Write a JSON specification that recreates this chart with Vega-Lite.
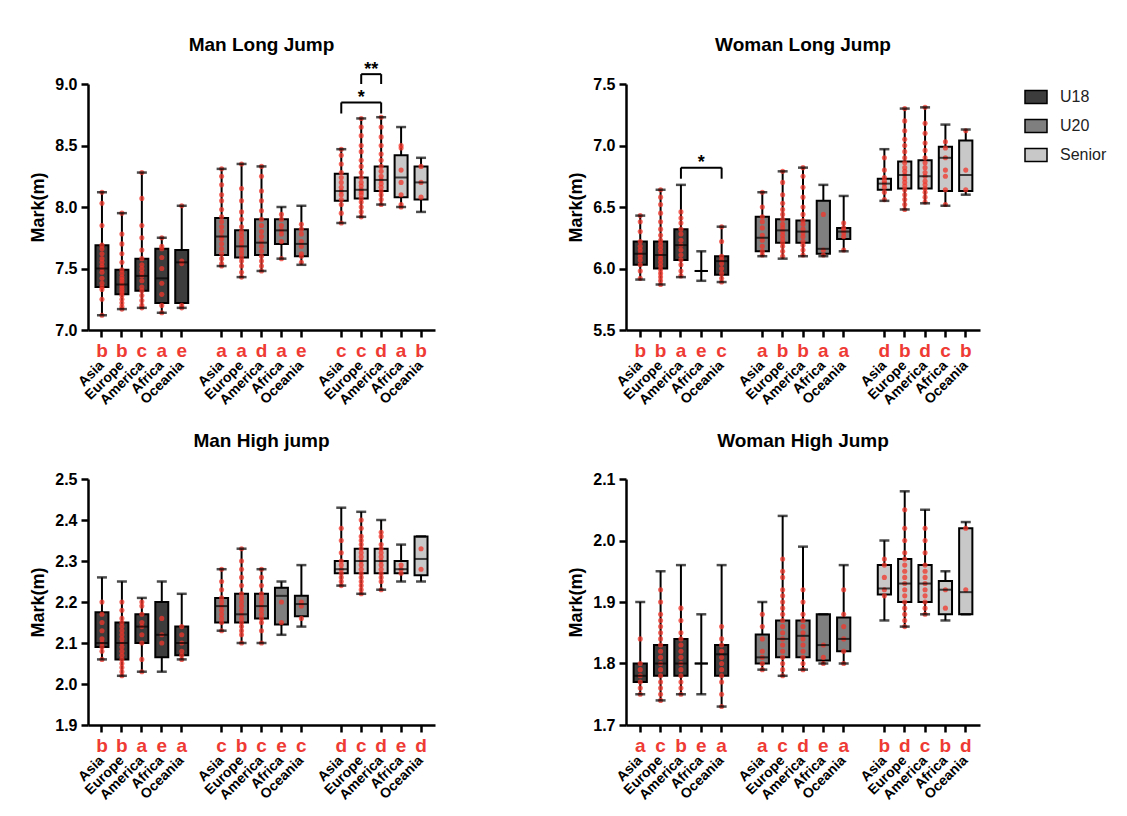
{
  "$schema": "https://vega.github.io/schema/vega-lite/v6.json",
  "background": "white",
  "padding": {"left": 29, "top": 36, "right": 5, "bottom": 5},
  "config": {
    "font": "Liberation Sans",
    "view": {"stroke": null},
    "axis": {"domainColor": "black", "domainWidth": 2.5, "tickColor": "black", "tickWidth": 2.5, "tickSize": 7, "labelColor": "black", "labelFontWeight": "bold", "grid": false, "titleFontWeight": "bold", "titleColor": "black"},
    "axisX": {"labelAngle": -45, "labelAlign": "right", "labelBaseline": "middle", "labelFontSize": 14, "labelPadding": 26, "title": null},
    "axisY": {"labelFontSize": 16, "titleFontSize": 18, "labelPadding": 4, "titlePadding": 7},
    "title": {"fontSize": 19, "fontWeight": "bold", "color": "black"}
  },
  "datasets": {
    "mlj": [
      {"b": "U18 Asia", "g": "U18", "lo": 7.12, "q1": 7.35, "md": 7.5, "q3": 7.69, "hi": 8.12, "l": "b"},
      {"b": "U18 Europe", "g": "U18", "lo": 7.17, "q1": 7.29, "md": 7.37, "q3": 7.49, "hi": 7.95, "l": "b"},
      {"b": "U18 America", "g": "U18", "lo": 7.18, "q1": 7.32, "md": 7.44, "q3": 7.58, "hi": 8.28, "l": "c"},
      {"b": "U18 Africa", "g": "U18", "lo": 7.14, "q1": 7.22, "md": 7.42, "q3": 7.66, "hi": 7.75, "l": "a"},
      {"b": "U18 Oceania", "g": "U18", "lo": 7.18, "q1": 7.22, "md": 7.55, "q3": 7.65, "hi": 8.01, "l": "e"},
      {"b": "U20 Asia", "g": "U20", "lo": 7.52, "q1": 7.61, "md": 7.76, "q3": 7.91, "hi": 8.31, "l": "a"},
      {"b": "U20 Europe", "g": "U20", "lo": 7.43, "q1": 7.59, "md": 7.68, "q3": 7.81, "hi": 8.35, "l": "a"},
      {"b": "U20 America", "g": "U20", "lo": 7.48, "q1": 7.61, "md": 7.71, "q3": 7.9, "hi": 8.33, "l": "d"},
      {"b": "U20 Africa", "g": "U20", "lo": 7.58, "q1": 7.7, "md": 7.81, "q3": 7.9, "hi": 8.0, "l": "a"},
      {"b": "U20 Oceania", "g": "U20", "lo": 7.53, "q1": 7.6, "md": 7.7, "q3": 7.82, "hi": 8.01, "l": "e"},
      {"b": "Senior Asia", "g": "Senior", "lo": 7.87, "q1": 8.05, "md": 8.13, "q3": 8.27, "hi": 8.47, "l": "c"},
      {"b": "Senior Europe", "g": "Senior", "lo": 7.92, "q1": 8.07, "md": 8.14, "q3": 8.24, "hi": 8.72, "l": "c"},
      {"b": "Senior America", "g": "Senior", "lo": 8.02, "q1": 8.13, "md": 8.22, "q3": 8.33, "hi": 8.73, "l": "d"},
      {"b": "Senior Africa", "g": "Senior", "lo": 8.0, "q1": 8.08, "md": 8.24, "q3": 8.42, "hi": 8.65, "l": "a"},
      {"b": "Senior Oceania", "g": "Senior", "lo": 7.96, "q1": 8.06, "md": 8.2, "q3": 8.33, "hi": 8.4, "l": "b"}
    ],
    "mlj_p": [
      {"b": "U18 Asia", "v": 7.12}, {"b": "U18 Asia", "v": 7.25}, {"b": "U18 Asia", "v": 7.33}, {"b": "U18 Asia", "v": 7.35}, {"b": "U18 Asia", "v": 7.38}, {"b": "U18 Asia", "v": 7.42}, {"b": "U18 Asia", "v": 7.47}, {"b": "U18 Asia", "v": 7.5}, {"b": "U18 Asia", "v": 7.52}, {"b": "U18 Asia", "v": 7.55}, {"b": "U18 Asia", "v": 7.58}, {"b": "U18 Asia", "v": 7.62}, {"b": "U18 Asia", "v": 7.66}, {"b": "U18 Asia", "v": 7.69}, {"b": "U18 Asia", "v": 7.85}, {"b": "U18 Asia", "v": 8.03}, {"b": "U18 Asia", "v": 8.12},
      {"b": "U18 Europe", "v": 7.17}, {"b": "U18 Europe", "v": 7.19}, {"b": "U18 Europe", "v": 7.22}, {"b": "U18 Europe", "v": 7.25}, {"b": "U18 Europe", "v": 7.28}, {"b": "U18 Europe", "v": 7.3}, {"b": "U18 Europe", "v": 7.32}, {"b": "U18 Europe", "v": 7.34}, {"b": "U18 Europe", "v": 7.36}, {"b": "U18 Europe", "v": 7.37}, {"b": "U18 Europe", "v": 7.39}, {"b": "U18 Europe", "v": 7.41}, {"b": "U18 Europe", "v": 7.43}, {"b": "U18 Europe", "v": 7.46}, {"b": "U18 Europe", "v": 7.49}, {"b": "U18 Europe", "v": 7.55}, {"b": "U18 Europe", "v": 7.62}, {"b": "U18 Europe", "v": 7.7}, {"b": "U18 Europe", "v": 7.78}, {"b": "U18 Europe", "v": 7.95},
      {"b": "U18 America", "v": 7.18}, {"b": "U18 America", "v": 7.2}, {"b": "U18 America", "v": 7.24}, {"b": "U18 America", "v": 7.28}, {"b": "U18 America", "v": 7.32}, {"b": "U18 America", "v": 7.35}, {"b": "U18 America", "v": 7.4}, {"b": "U18 America", "v": 7.44}, {"b": "U18 America", "v": 7.47}, {"b": "U18 America", "v": 7.5}, {"b": "U18 America", "v": 7.53}, {"b": "U18 America", "v": 7.58}, {"b": "U18 America", "v": 7.65}, {"b": "U18 America", "v": 7.75}, {"b": "U18 America", "v": 7.85}, {"b": "U18 America", "v": 8.07}, {"b": "U18 America", "v": 8.28},
      {"b": "U18 Africa", "v": 7.14}, {"b": "U18 Africa", "v": 7.2}, {"b": "U18 Africa", "v": 7.29}, {"b": "U18 Africa", "v": 7.38}, {"b": "U18 Africa", "v": 7.5}, {"b": "U18 Africa", "v": 7.59}, {"b": "U18 Africa", "v": 7.66}, {"b": "U18 Africa", "v": 7.68}, {"b": "U18 Africa", "v": 7.75},
      {"b": "U18 Oceania", "v": 7.18}, {"b": "U18 Oceania", "v": 7.2}, {"b": "U18 Oceania", "v": 7.54}, {"b": "U18 Oceania", "v": 7.56}, {"b": "U18 Oceania", "v": 8.01},
      {"b": "U20 Asia", "v": 7.52}, {"b": "U20 Asia", "v": 7.54}, {"b": "U20 Asia", "v": 7.58}, {"b": "U20 Asia", "v": 7.62}, {"b": "U20 Asia", "v": 7.66}, {"b": "U20 Asia", "v": 7.7}, {"b": "U20 Asia", "v": 7.74}, {"b": "U20 Asia", "v": 7.76}, {"b": "U20 Asia", "v": 7.8}, {"b": "U20 Asia", "v": 7.84}, {"b": "U20 Asia", "v": 7.88}, {"b": "U20 Asia", "v": 7.92}, {"b": "U20 Asia", "v": 7.98}, {"b": "U20 Asia", "v": 8.05}, {"b": "U20 Asia", "v": 8.1}, {"b": "U20 Asia", "v": 8.18}, {"b": "U20 Asia", "v": 8.25}, {"b": "U20 Asia", "v": 8.31},
      {"b": "U20 Europe", "v": 7.43}, {"b": "U20 Europe", "v": 7.47}, {"b": "U20 Europe", "v": 7.52}, {"b": "U20 Europe", "v": 7.56}, {"b": "U20 Europe", "v": 7.59}, {"b": "U20 Europe", "v": 7.62}, {"b": "U20 Europe", "v": 7.65}, {"b": "U20 Europe", "v": 7.68}, {"b": "U20 Europe", "v": 7.71}, {"b": "U20 Europe", "v": 7.74}, {"b": "U20 Europe", "v": 7.77}, {"b": "U20 Europe", "v": 7.8}, {"b": "U20 Europe", "v": 7.84}, {"b": "U20 Europe", "v": 7.9}, {"b": "U20 Europe", "v": 7.96}, {"b": "U20 Europe", "v": 8.05}, {"b": "U20 Europe", "v": 8.15}, {"b": "U20 Europe", "v": 8.35},
      {"b": "U20 America", "v": 7.48}, {"b": "U20 America", "v": 7.52}, {"b": "U20 America", "v": 7.56}, {"b": "U20 America", "v": 7.6}, {"b": "U20 America", "v": 7.64}, {"b": "U20 America", "v": 7.68}, {"b": "U20 America", "v": 7.72}, {"b": "U20 America", "v": 7.76}, {"b": "U20 America", "v": 7.8}, {"b": "U20 America", "v": 7.85}, {"b": "U20 America", "v": 7.9}, {"b": "U20 America", "v": 7.97}, {"b": "U20 America", "v": 8.05}, {"b": "U20 America", "v": 8.13}, {"b": "U20 America", "v": 8.25}, {"b": "U20 America", "v": 8.33},
      {"b": "U20 Africa", "v": 7.58}, {"b": "U20 Africa", "v": 7.72}, {"b": "U20 Africa", "v": 7.78}, {"b": "U20 Africa", "v": 7.81}, {"b": "U20 Africa", "v": 7.85}, {"b": "U20 Africa", "v": 7.9}, {"b": "U20 Africa", "v": 7.94},
      {"b": "U20 Oceania", "v": 7.55}, {"b": "U20 Oceania", "v": 7.6}, {"b": "U20 Oceania", "v": 7.62}, {"b": "U20 Oceania", "v": 7.68}, {"b": "U20 Oceania", "v": 7.72}, {"b": "U20 Oceania", "v": 7.78}, {"b": "U20 Oceania", "v": 7.82}, {"b": "U20 Oceania", "v": 7.86},
      {"b": "Senior Asia", "v": 7.87}, {"b": "Senior Asia", "v": 7.95}, {"b": "Senior Asia", "v": 8.02}, {"b": "Senior Asia", "v": 8.06}, {"b": "Senior Asia", "v": 8.1}, {"b": "Senior Asia", "v": 8.13}, {"b": "Senior Asia", "v": 8.16}, {"b": "Senior Asia", "v": 8.2}, {"b": "Senior Asia", "v": 8.24}, {"b": "Senior Asia", "v": 8.28}, {"b": "Senior Asia", "v": 8.35}, {"b": "Senior Asia", "v": 8.42}, {"b": "Senior Asia", "v": 8.47},
      {"b": "Senior Europe", "v": 7.92}, {"b": "Senior Europe", "v": 7.96}, {"b": "Senior Europe", "v": 8.0}, {"b": "Senior Europe", "v": 8.04}, {"b": "Senior Europe", "v": 8.07}, {"b": "Senior Europe", "v": 8.1}, {"b": "Senior Europe", "v": 8.12}, {"b": "Senior Europe", "v": 8.14}, {"b": "Senior Europe", "v": 8.17}, {"b": "Senior Europe", "v": 8.2}, {"b": "Senior Europe", "v": 8.24}, {"b": "Senior Europe", "v": 8.28}, {"b": "Senior Europe", "v": 8.33}, {"b": "Senior Europe", "v": 8.38}, {"b": "Senior Europe", "v": 8.45}, {"b": "Senior Europe", "v": 8.5}, {"b": "Senior Europe", "v": 8.58}, {"b": "Senior Europe", "v": 8.65}, {"b": "Senior Europe", "v": 8.72},
      {"b": "Senior America", "v": 8.02}, {"b": "Senior America", "v": 8.06}, {"b": "Senior America", "v": 8.1}, {"b": "Senior America", "v": 8.13}, {"b": "Senior America", "v": 8.16}, {"b": "Senior America", "v": 8.19}, {"b": "Senior America", "v": 8.22}, {"b": "Senior America", "v": 8.25}, {"b": "Senior America", "v": 8.29}, {"b": "Senior America", "v": 8.33}, {"b": "Senior America", "v": 8.38}, {"b": "Senior America", "v": 8.43}, {"b": "Senior America", "v": 8.5}, {"b": "Senior America", "v": 8.57}, {"b": "Senior America", "v": 8.65}, {"b": "Senior America", "v": 8.73},
      {"b": "Senior Africa", "v": 8.0}, {"b": "Senior Africa", "v": 8.02}, {"b": "Senior Africa", "v": 8.1}, {"b": "Senior Africa", "v": 8.2}, {"b": "Senior Africa", "v": 8.3}, {"b": "Senior Africa", "v": 8.48}, {"b": "Senior Africa", "v": 8.5},
      {"b": "Senior Oceania", "v": 8.08}, {"b": "Senior Oceania", "v": 8.2}, {"b": "Senior Oceania", "v": 8.33}
    ],
    "wlj": [
      {"b": "U18 Asia", "g": "U18", "lo": 5.91, "q1": 6.03, "md": 6.12, "q3": 6.22, "hi": 6.43, "l": "b"},
      {"b": "U18 Europe", "g": "U18", "lo": 5.87, "q1": 6.0, "md": 6.11, "q3": 6.22, "hi": 6.64, "l": "b"},
      {"b": "U18 America", "g": "U18", "lo": 5.93, "q1": 6.07, "md": 6.19, "q3": 6.32, "hi": 6.68, "l": "a"},
      {"b": "U18 Africa", "g": "U18", "lo": 5.9, "q1": 5.98, "md": 5.98, "q3": 5.98, "hi": 6.14, "l": "e"},
      {"b": "U18 Oceania", "g": "U18", "lo": 5.89, "q1": 5.95, "md": 6.06, "q3": 6.1, "hi": 6.34, "l": "c"},
      {"b": "U20 Asia", "g": "U20", "lo": 6.1, "q1": 6.14, "md": 6.25, "q3": 6.42, "hi": 6.62, "l": "a"},
      {"b": "U20 Europe", "g": "U20", "lo": 6.08, "q1": 6.21, "md": 6.31, "q3": 6.4, "hi": 6.79, "l": "b"},
      {"b": "U20 America", "g": "U20", "lo": 6.1, "q1": 6.21, "md": 6.3, "q3": 6.39, "hi": 6.82, "l": "b"},
      {"b": "U20 Africa", "g": "U20", "lo": 6.1, "q1": 6.12, "md": 6.16, "q3": 6.55, "hi": 6.68, "l": "a"},
      {"b": "U20 Oceania", "g": "U20", "lo": 6.14, "q1": 6.24, "md": 6.3, "q3": 6.33, "hi": 6.59, "l": "a"},
      {"b": "Senior Asia", "g": "Senior", "lo": 6.55, "q1": 6.64, "md": 6.69, "q3": 6.73, "hi": 6.97, "l": "d"},
      {"b": "Senior Europe", "g": "Senior", "lo": 6.48, "q1": 6.65, "md": 6.76, "q3": 6.87, "hi": 7.3, "l": "b"},
      {"b": "Senior America", "g": "Senior", "lo": 6.53, "q1": 6.65, "md": 6.75, "q3": 6.88, "hi": 7.31, "l": "d"},
      {"b": "Senior Africa", "g": "Senior", "lo": 6.51, "q1": 6.63, "md": 6.9, "q3": 6.99, "hi": 7.17, "l": "c"},
      {"b": "Senior Oceania", "g": "Senior", "lo": 6.6, "q1": 6.63, "md": 6.76, "q3": 7.04, "hi": 7.13, "l": "b"}
    ],
    "wlj_p": [
      {"b": "U18 Asia", "v": 5.92}, {"b": "U18 Asia", "v": 5.98}, {"b": "U18 Asia", "v": 6.03}, {"b": "U18 Asia", "v": 6.07}, {"b": "U18 Asia", "v": 6.1}, {"b": "U18 Asia", "v": 6.12}, {"b": "U18 Asia", "v": 6.15}, {"b": "U18 Asia", "v": 6.18}, {"b": "U18 Asia", "v": 6.22}, {"b": "U18 Asia", "v": 6.3}, {"b": "U18 Asia", "v": 6.38}, {"b": "U18 Asia", "v": 6.43},
      {"b": "U18 Europe", "v": 5.87}, {"b": "U18 Europe", "v": 5.9}, {"b": "U18 Europe", "v": 5.93}, {"b": "U18 Europe", "v": 5.96}, {"b": "U18 Europe", "v": 5.99}, {"b": "U18 Europe", "v": 6.02}, {"b": "U18 Europe", "v": 6.05}, {"b": "U18 Europe", "v": 6.08}, {"b": "U18 Europe", "v": 6.11}, {"b": "U18 Europe", "v": 6.14}, {"b": "U18 Europe", "v": 6.17}, {"b": "U18 Europe", "v": 6.2}, {"b": "U18 Europe", "v": 6.23}, {"b": "U18 Europe", "v": 6.27}, {"b": "U18 Europe", "v": 6.32}, {"b": "U18 Europe", "v": 6.38}, {"b": "U18 Europe", "v": 6.45}, {"b": "U18 Europe", "v": 6.52}, {"b": "U18 Europe", "v": 6.58}, {"b": "U18 Europe", "v": 6.64},
      {"b": "U18 America", "v": 5.94}, {"b": "U18 America", "v": 5.98}, {"b": "U18 America", "v": 6.03}, {"b": "U18 America", "v": 6.07}, {"b": "U18 America", "v": 6.11}, {"b": "U18 America", "v": 6.15}, {"b": "U18 America", "v": 6.19}, {"b": "U18 America", "v": 6.23}, {"b": "U18 America", "v": 6.28}, {"b": "U18 America", "v": 6.32}, {"b": "U18 America", "v": 6.37}, {"b": "U18 America", "v": 6.41}, {"b": "U18 America", "v": 6.46},
      {"b": "U18 Oceania", "v": 5.89}, {"b": "U18 Oceania", "v": 5.92}, {"b": "U18 Oceania", "v": 5.96}, {"b": "U18 Oceania", "v": 6.0}, {"b": "U18 Oceania", "v": 6.04}, {"b": "U18 Oceania", "v": 6.07}, {"b": "U18 Oceania", "v": 6.1}, {"b": "U18 Oceania", "v": 6.22}, {"b": "U18 Oceania", "v": 6.34},
      {"b": "U20 Asia", "v": 6.11}, {"b": "U20 Asia", "v": 6.14}, {"b": "U20 Asia", "v": 6.18}, {"b": "U20 Asia", "v": 6.23}, {"b": "U20 Asia", "v": 6.27}, {"b": "U20 Asia", "v": 6.33}, {"b": "U20 Asia", "v": 6.38}, {"b": "U20 Asia", "v": 6.42}, {"b": "U20 Asia", "v": 6.5}, {"b": "U20 Asia", "v": 6.62},
      {"b": "U20 Europe", "v": 6.1}, {"b": "U20 Europe", "v": 6.14}, {"b": "U20 Europe", "v": 6.18}, {"b": "U20 Europe", "v": 6.21}, {"b": "U20 Europe", "v": 6.24}, {"b": "U20 Europe", "v": 6.27}, {"b": "U20 Europe", "v": 6.3}, {"b": "U20 Europe", "v": 6.33}, {"b": "U20 Europe", "v": 6.36}, {"b": "U20 Europe", "v": 6.4}, {"b": "U20 Europe", "v": 6.44}, {"b": "U20 Europe", "v": 6.48}, {"b": "U20 Europe", "v": 6.53}, {"b": "U20 Europe", "v": 6.6}, {"b": "U20 Europe", "v": 6.7}, {"b": "U20 Europe", "v": 6.79},
      {"b": "U20 America", "v": 6.11}, {"b": "U20 America", "v": 6.15}, {"b": "U20 America", "v": 6.19}, {"b": "U20 America", "v": 6.22}, {"b": "U20 America", "v": 6.26}, {"b": "U20 America", "v": 6.29}, {"b": "U20 America", "v": 6.32}, {"b": "U20 America", "v": 6.36}, {"b": "U20 America", "v": 6.39}, {"b": "U20 America", "v": 6.44}, {"b": "U20 America", "v": 6.5}, {"b": "U20 America", "v": 6.58}, {"b": "U20 America", "v": 6.66}, {"b": "U20 America", "v": 6.75}, {"b": "U20 America", "v": 6.82},
      {"b": "U20 Africa", "v": 6.11}, {"b": "U20 Africa", "v": 6.15}, {"b": "U20 Africa", "v": 6.44},
      {"b": "U20 Oceania", "v": 6.15}, {"b": "U20 Oceania", "v": 6.26}, {"b": "U20 Oceania", "v": 6.29}, {"b": "U20 Oceania", "v": 6.31}, {"b": "U20 Oceania", "v": 6.33}, {"b": "U20 Oceania", "v": 6.37},
      {"b": "Senior Asia", "v": 6.56}, {"b": "Senior Asia", "v": 6.62}, {"b": "Senior Asia", "v": 6.66}, {"b": "Senior Asia", "v": 6.69}, {"b": "Senior Asia", "v": 6.71}, {"b": "Senior Asia", "v": 6.74}, {"b": "Senior Asia", "v": 6.8}, {"b": "Senior Asia", "v": 6.9},
      {"b": "Senior Europe", "v": 6.48}, {"b": "Senior Europe", "v": 6.52}, {"b": "Senior Europe", "v": 6.56}, {"b": "Senior Europe", "v": 6.6}, {"b": "Senior Europe", "v": 6.64}, {"b": "Senior Europe", "v": 6.67}, {"b": "Senior Europe", "v": 6.7}, {"b": "Senior Europe", "v": 6.73}, {"b": "Senior Europe", "v": 6.76}, {"b": "Senior Europe", "v": 6.79}, {"b": "Senior Europe", "v": 6.82}, {"b": "Senior Europe", "v": 6.86}, {"b": "Senior Europe", "v": 6.9}, {"b": "Senior Europe", "v": 6.95}, {"b": "Senior Europe", "v": 7.0}, {"b": "Senior Europe", "v": 7.05}, {"b": "Senior Europe", "v": 7.12}, {"b": "Senior Europe", "v": 7.2}, {"b": "Senior Europe", "v": 7.3},
      {"b": "Senior America", "v": 6.54}, {"b": "Senior America", "v": 6.58}, {"b": "Senior America", "v": 6.62}, {"b": "Senior America", "v": 6.65}, {"b": "Senior America", "v": 6.68}, {"b": "Senior America", "v": 6.71}, {"b": "Senior America", "v": 6.75}, {"b": "Senior America", "v": 6.78}, {"b": "Senior America", "v": 6.82}, {"b": "Senior America", "v": 6.86}, {"b": "Senior America", "v": 6.9}, {"b": "Senior America", "v": 6.96}, {"b": "Senior America", "v": 7.02}, {"b": "Senior America", "v": 7.1}, {"b": "Senior America", "v": 7.18}, {"b": "Senior America", "v": 7.31},
      {"b": "Senior Africa", "v": 6.52}, {"b": "Senior Africa", "v": 6.64}, {"b": "Senior Africa", "v": 6.75}, {"b": "Senior Africa", "v": 6.8}, {"b": "Senior Africa", "v": 6.9}, {"b": "Senior Africa", "v": 6.98}, {"b": "Senior Africa", "v": 7.03},
      {"b": "Senior Oceania", "v": 6.64}, {"b": "Senior Oceania", "v": 6.8}, {"b": "Senior Oceania", "v": 7.12}
    ],
    "mhj": [
      {"b": "U18 Asia", "g": "U18", "lo": 2.06, "q1": 2.09, "md": 2.1, "q3": 2.175, "hi": 2.26, "l": "b"},
      {"b": "U18 Europe", "g": "U18", "lo": 2.02, "q1": 2.06, "md": 2.1, "q3": 2.15, "hi": 2.25, "l": "b"},
      {"b": "U18 America", "g": "U18", "lo": 2.03, "q1": 2.1, "md": 2.14, "q3": 2.17, "hi": 2.21, "l": "a"},
      {"b": "U18 Africa", "g": "U18", "lo": 2.03, "q1": 2.065, "md": 2.12, "q3": 2.2, "hi": 2.25, "l": "e"},
      {"b": "U18 Oceania", "g": "U18", "lo": 2.06, "q1": 2.07, "md": 2.1, "q3": 2.14, "hi": 2.22, "l": "a"},
      {"b": "U20 Asia", "g": "U20", "lo": 2.13, "q1": 2.15, "md": 2.19, "q3": 2.21, "hi": 2.28, "l": "c"},
      {"b": "U20 Europe", "g": "U20", "lo": 2.1, "q1": 2.15, "md": 2.17, "q3": 2.22, "hi": 2.33, "l": "b"},
      {"b": "U20 America", "g": "U20", "lo": 2.1, "q1": 2.16, "md": 2.19, "q3": 2.22, "hi": 2.28, "l": "c"},
      {"b": "U20 Africa", "g": "U20", "lo": 2.12, "q1": 2.145, "md": 2.215, "q3": 2.235, "hi": 2.25, "l": "e"},
      {"b": "U20 Oceania", "g": "U20", "lo": 2.14, "q1": 2.165, "md": 2.195, "q3": 2.215, "hi": 2.29, "l": "c"},
      {"b": "Senior Asia", "g": "Senior", "lo": 2.24, "q1": 2.27, "md": 2.28, "q3": 2.3, "hi": 2.43, "l": "d"},
      {"b": "Senior Europe", "g": "Senior", "lo": 2.22, "q1": 2.27, "md": 2.3, "q3": 2.33, "hi": 2.42, "l": "c"},
      {"b": "Senior America", "g": "Senior", "lo": 2.23, "q1": 2.27, "md": 2.3, "q3": 2.33, "hi": 2.4, "l": "d"},
      {"b": "Senior Africa", "g": "Senior", "lo": 2.25, "q1": 2.27, "md": 2.28, "q3": 2.3, "hi": 2.34, "l": "e"},
      {"b": "Senior Oceania", "g": "Senior", "lo": 2.25, "q1": 2.265, "md": 2.305, "q3": 2.36, "hi": 2.36, "l": "d"}
    ],
    "mhj_p": [
      {"b": "U18 Asia", "v": 2.06}, {"b": "U18 Asia", "v": 2.08}, {"b": "U18 Asia", "v": 2.09}, {"b": "U18 Asia", "v": 2.1}, {"b": "U18 Asia", "v": 2.11}, {"b": "U18 Asia", "v": 2.13}, {"b": "U18 Asia", "v": 2.15}, {"b": "U18 Asia", "v": 2.17}, {"b": "U18 Asia", "v": 2.2},
      {"b": "U18 Europe", "v": 2.02}, {"b": "U18 Europe", "v": 2.03}, {"b": "U18 Europe", "v": 2.04}, {"b": "U18 Europe", "v": 2.05}, {"b": "U18 Europe", "v": 2.06}, {"b": "U18 Europe", "v": 2.07}, {"b": "U18 Europe", "v": 2.08}, {"b": "U18 Europe", "v": 2.09}, {"b": "U18 Europe", "v": 2.1}, {"b": "U18 Europe", "v": 2.11}, {"b": "U18 Europe", "v": 2.12}, {"b": "U18 Europe", "v": 2.13}, {"b": "U18 Europe", "v": 2.14}, {"b": "U18 Europe", "v": 2.15}, {"b": "U18 Europe", "v": 2.16}, {"b": "U18 Europe", "v": 2.18}, {"b": "U18 Europe", "v": 2.2},
      {"b": "U18 America", "v": 2.03}, {"b": "U18 America", "v": 2.06}, {"b": "U18 America", "v": 2.1}, {"b": "U18 America", "v": 2.12}, {"b": "U18 America", "v": 2.14}, {"b": "U18 America", "v": 2.15}, {"b": "U18 America", "v": 2.17}, {"b": "U18 America", "v": 2.19}, {"b": "U18 America", "v": 2.2},
      {"b": "U18 Africa", "v": 2.1}, {"b": "U18 Africa", "v": 2.12}, {"b": "U18 Africa", "v": 2.16},
      {"b": "U18 Oceania", "v": 2.06}, {"b": "U18 Oceania", "v": 2.07}, {"b": "U18 Oceania", "v": 2.08}, {"b": "U18 Oceania", "v": 2.1}, {"b": "U18 Oceania", "v": 2.12}, {"b": "U18 Oceania", "v": 2.14},
      {"b": "U20 Asia", "v": 2.13}, {"b": "U20 Asia", "v": 2.15}, {"b": "U20 Asia", "v": 2.16}, {"b": "U20 Asia", "v": 2.17}, {"b": "U20 Asia", "v": 2.18}, {"b": "U20 Asia", "v": 2.19}, {"b": "U20 Asia", "v": 2.2}, {"b": "U20 Asia", "v": 2.21}, {"b": "U20 Asia", "v": 2.23}, {"b": "U20 Asia", "v": 2.25}, {"b": "U20 Asia", "v": 2.28},
      {"b": "U20 Europe", "v": 2.1}, {"b": "U20 Europe", "v": 2.12}, {"b": "U20 Europe", "v": 2.13}, {"b": "U20 Europe", "v": 2.14}, {"b": "U20 Europe", "v": 2.15}, {"b": "U20 Europe", "v": 2.16}, {"b": "U20 Europe", "v": 2.17}, {"b": "U20 Europe", "v": 2.18}, {"b": "U20 Europe", "v": 2.19}, {"b": "U20 Europe", "v": 2.2}, {"b": "U20 Europe", "v": 2.21}, {"b": "U20 Europe", "v": 2.22}, {"b": "U20 Europe", "v": 2.24}, {"b": "U20 Europe", "v": 2.26}, {"b": "U20 Europe", "v": 2.28}, {"b": "U20 Europe", "v": 2.3}, {"b": "U20 Europe", "v": 2.33},
      {"b": "U20 America", "v": 2.1}, {"b": "U20 America", "v": 2.13}, {"b": "U20 America", "v": 2.15}, {"b": "U20 America", "v": 2.16}, {"b": "U20 America", "v": 2.17}, {"b": "U20 America", "v": 2.18}, {"b": "U20 America", "v": 2.19}, {"b": "U20 America", "v": 2.2}, {"b": "U20 America", "v": 2.21}, {"b": "U20 America", "v": 2.22}, {"b": "U20 America", "v": 2.24}, {"b": "U20 America", "v": 2.26}, {"b": "U20 America", "v": 2.28},
      {"b": "U20 Africa", "v": 2.15}, {"b": "U20 Africa", "v": 2.2},
      {"b": "U20 Oceania", "v": 2.16}, {"b": "U20 Oceania", "v": 2.19}, {"b": "U20 Oceania", "v": 2.2},
      {"b": "Senior Asia", "v": 2.24}, {"b": "Senior Asia", "v": 2.25}, {"b": "Senior Asia", "v": 2.26}, {"b": "Senior Asia", "v": 2.27}, {"b": "Senior Asia", "v": 2.28}, {"b": "Senior Asia", "v": 2.29}, {"b": "Senior Asia", "v": 2.3}, {"b": "Senior Asia", "v": 2.32}, {"b": "Senior Asia", "v": 2.35}, {"b": "Senior Asia", "v": 2.38},
      {"b": "Senior Europe", "v": 2.22}, {"b": "Senior Europe", "v": 2.23}, {"b": "Senior Europe", "v": 2.24}, {"b": "Senior Europe", "v": 2.25}, {"b": "Senior Europe", "v": 2.26}, {"b": "Senior Europe", "v": 2.27}, {"b": "Senior Europe", "v": 2.28}, {"b": "Senior Europe", "v": 2.29}, {"b": "Senior Europe", "v": 2.3}, {"b": "Senior Europe", "v": 2.31}, {"b": "Senior Europe", "v": 2.32}, {"b": "Senior Europe", "v": 2.33}, {"b": "Senior Europe", "v": 2.34}, {"b": "Senior Europe", "v": 2.35}, {"b": "Senior Europe", "v": 2.36}, {"b": "Senior Europe", "v": 2.38}, {"b": "Senior Europe", "v": 2.4},
      {"b": "Senior America", "v": 2.23}, {"b": "Senior America", "v": 2.25}, {"b": "Senior America", "v": 2.26}, {"b": "Senior America", "v": 2.27}, {"b": "Senior America", "v": 2.28}, {"b": "Senior America", "v": 2.29}, {"b": "Senior America", "v": 2.3}, {"b": "Senior America", "v": 2.31}, {"b": "Senior America", "v": 2.32}, {"b": "Senior America", "v": 2.33}, {"b": "Senior America", "v": 2.34}, {"b": "Senior America", "v": 2.36}, {"b": "Senior America", "v": 2.37},
      {"b": "Senior Africa", "v": 2.27}, {"b": "Senior Africa", "v": 2.28}, {"b": "Senior Africa", "v": 2.29},
      {"b": "Senior Oceania", "v": 2.28}, {"b": "Senior Oceania", "v": 2.33}
    ],
    "whj": [
      {"b": "U18 Asia", "g": "U18", "lo": 1.75, "q1": 1.77, "md": 1.78, "q3": 1.8, "hi": 1.9, "l": "a"},
      {"b": "U18 Europe", "g": "U18", "lo": 1.74, "q1": 1.78, "md": 1.8, "q3": 1.83, "hi": 1.95, "l": "c"},
      {"b": "U18 America", "g": "U18", "lo": 1.75, "q1": 1.78, "md": 1.8, "q3": 1.84, "hi": 1.96, "l": "b"},
      {"b": "U18 Africa", "g": "U18", "lo": 1.75, "q1": 1.8, "md": 1.8, "q3": 1.8, "hi": 1.88, "l": "e"},
      {"b": "U18 Oceania", "g": "U18", "lo": 1.73, "q1": 1.78, "md": 1.815, "q3": 1.83, "hi": 1.96, "l": "a"},
      {"b": "U20 Asia", "g": "U20", "lo": 1.79, "q1": 1.8, "md": 1.81, "q3": 1.847, "hi": 1.9, "l": "a"},
      {"b": "U20 Europe", "g": "U20", "lo": 1.78, "q1": 1.81, "md": 1.84, "q3": 1.87, "hi": 2.04, "l": "c"},
      {"b": "U20 America", "g": "U20", "lo": 1.79, "q1": 1.81, "md": 1.845, "q3": 1.87, "hi": 1.99, "l": "d"},
      {"b": "U20 Africa", "g": "U20", "lo": 1.8, "q1": 1.805, "md": 1.83, "q3": 1.88, "hi": 1.88, "l": "e"},
      {"b": "U20 Oceania", "g": "U20", "lo": 1.8, "q1": 1.82, "md": 1.84, "q3": 1.875, "hi": 1.96, "l": "a"},
      {"b": "Senior Asia", "g": "Senior", "lo": 1.87, "q1": 1.912, "md": 1.922, "q3": 1.96, "hi": 2.0, "l": "b"},
      {"b": "Senior Europe", "g": "Senior", "lo": 1.86, "q1": 1.9, "md": 1.93, "q3": 1.97, "hi": 2.08, "l": "d"},
      {"b": "Senior America", "g": "Senior", "lo": 1.88, "q1": 1.9, "md": 1.93, "q3": 1.96, "hi": 2.05, "l": "c"},
      {"b": "Senior Africa", "g": "Senior", "lo": 1.87, "q1": 1.88, "md": 1.92, "q3": 1.934, "hi": 1.95, "l": "b"},
      {"b": "Senior Oceania", "g": "Senior", "lo": 1.88, "q1": 1.88, "md": 1.916, "q3": 2.02, "hi": 2.03, "l": "d"}
    ],
    "whj_p": [
      {"b": "U18 Asia", "v": 1.75}, {"b": "U18 Asia", "v": 1.76}, {"b": "U18 Asia", "v": 1.77}, {"b": "U18 Asia", "v": 1.78}, {"b": "U18 Asia", "v": 1.79}, {"b": "U18 Asia", "v": 1.8}, {"b": "U18 Asia", "v": 1.84},
      {"b": "U18 Europe", "v": 1.74}, {"b": "U18 Europe", "v": 1.75}, {"b": "U18 Europe", "v": 1.76}, {"b": "U18 Europe", "v": 1.77}, {"b": "U18 Europe", "v": 1.78}, {"b": "U18 Europe", "v": 1.79}, {"b": "U18 Europe", "v": 1.8}, {"b": "U18 Europe", "v": 1.81}, {"b": "U18 Europe", "v": 1.82}, {"b": "U18 Europe", "v": 1.83}, {"b": "U18 Europe", "v": 1.84}, {"b": "U18 Europe", "v": 1.85}, {"b": "U18 Europe", "v": 1.86}, {"b": "U18 Europe", "v": 1.87}, {"b": "U18 Europe", "v": 1.88}, {"b": "U18 Europe", "v": 1.9}, {"b": "U18 Europe", "v": 1.92},
      {"b": "U18 America", "v": 1.75}, {"b": "U18 America", "v": 1.76}, {"b": "U18 America", "v": 1.77}, {"b": "U18 America", "v": 1.78}, {"b": "U18 America", "v": 1.79}, {"b": "U18 America", "v": 1.8}, {"b": "U18 America", "v": 1.81}, {"b": "U18 America", "v": 1.82}, {"b": "U18 America", "v": 1.83}, {"b": "U18 America", "v": 1.84}, {"b": "U18 America", "v": 1.85}, {"b": "U18 America", "v": 1.87}, {"b": "U18 America", "v": 1.89},
      {"b": "U18 Oceania", "v": 1.73}, {"b": "U18 Oceania", "v": 1.75}, {"b": "U18 Oceania", "v": 1.77}, {"b": "U18 Oceania", "v": 1.78}, {"b": "U18 Oceania", "v": 1.79}, {"b": "U18 Oceania", "v": 1.8}, {"b": "U18 Oceania", "v": 1.81}, {"b": "U18 Oceania", "v": 1.82}, {"b": "U18 Oceania", "v": 1.83}, {"b": "U18 Oceania", "v": 1.84}, {"b": "U18 Oceania", "v": 1.86},
      {"b": "U20 Asia", "v": 1.79}, {"b": "U20 Asia", "v": 1.8}, {"b": "U20 Asia", "v": 1.81}, {"b": "U20 Asia", "v": 1.82}, {"b": "U20 Asia", "v": 1.84}, {"b": "U20 Asia", "v": 1.86}, {"b": "U20 Asia", "v": 1.88},
      {"b": "U20 Europe", "v": 1.78}, {"b": "U20 Europe", "v": 1.79}, {"b": "U20 Europe", "v": 1.8}, {"b": "U20 Europe", "v": 1.81}, {"b": "U20 Europe", "v": 1.82}, {"b": "U20 Europe", "v": 1.83}, {"b": "U20 Europe", "v": 1.84}, {"b": "U20 Europe", "v": 1.85}, {"b": "U20 Europe", "v": 1.86}, {"b": "U20 Europe", "v": 1.87}, {"b": "U20 Europe", "v": 1.88}, {"b": "U20 Europe", "v": 1.89}, {"b": "U20 Europe", "v": 1.9}, {"b": "U20 Europe", "v": 1.91}, {"b": "U20 Europe", "v": 1.92}, {"b": "U20 Europe", "v": 1.94}, {"b": "U20 Europe", "v": 1.95}, {"b": "U20 Europe", "v": 1.97},
      {"b": "U20 America", "v": 1.79}, {"b": "U20 America", "v": 1.8}, {"b": "U20 America", "v": 1.81}, {"b": "U20 America", "v": 1.82}, {"b": "U20 America", "v": 1.83}, {"b": "U20 America", "v": 1.84}, {"b": "U20 America", "v": 1.85}, {"b": "U20 America", "v": 1.86}, {"b": "U20 America", "v": 1.87}, {"b": "U20 America", "v": 1.88}, {"b": "U20 America", "v": 1.9}, {"b": "U20 America", "v": 1.92},
      {"b": "U20 Africa", "v": 1.8}, {"b": "U20 Africa", "v": 1.81}, {"b": "U20 Africa", "v": 1.83},
      {"b": "U20 Oceania", "v": 1.8}, {"b": "U20 Oceania", "v": 1.82}, {"b": "U20 Oceania", "v": 1.84}, {"b": "U20 Oceania", "v": 1.86}, {"b": "U20 Oceania", "v": 1.88}, {"b": "U20 Oceania", "v": 1.92},
      {"b": "Senior Asia", "v": 1.91}, {"b": "Senior Asia", "v": 1.92}, {"b": "Senior Asia", "v": 1.94}, {"b": "Senior Asia", "v": 1.96}, {"b": "Senior Asia", "v": 1.97},
      {"b": "Senior Europe", "v": 1.86}, {"b": "Senior Europe", "v": 1.87}, {"b": "Senior Europe", "v": 1.88}, {"b": "Senior Europe", "v": 1.89}, {"b": "Senior Europe", "v": 1.9}, {"b": "Senior Europe", "v": 1.91}, {"b": "Senior Europe", "v": 1.92}, {"b": "Senior Europe", "v": 1.93}, {"b": "Senior Europe", "v": 1.94}, {"b": "Senior Europe", "v": 1.95}, {"b": "Senior Europe", "v": 1.96}, {"b": "Senior Europe", "v": 1.97}, {"b": "Senior Europe", "v": 1.98}, {"b": "Senior Europe", "v": 2.0}, {"b": "Senior Europe", "v": 2.02}, {"b": "Senior Europe", "v": 2.05},
      {"b": "Senior America", "v": 1.88}, {"b": "Senior America", "v": 1.89}, {"b": "Senior America", "v": 1.9}, {"b": "Senior America", "v": 1.91}, {"b": "Senior America", "v": 1.92}, {"b": "Senior America", "v": 1.93}, {"b": "Senior America", "v": 1.94}, {"b": "Senior America", "v": 1.95}, {"b": "Senior America", "v": 1.96}, {"b": "Senior America", "v": 1.98}, {"b": "Senior America", "v": 2.0}, {"b": "Senior America", "v": 2.02},
      {"b": "Senior Africa", "v": 1.89}, {"b": "Senior Africa", "v": 1.92},
      {"b": "Senior Oceania", "v": 1.92}, {"b": "Senior Oceania", "v": 2.02}
    ],
    "mlj_br": [
      {"a": "Senior Asia", "c": "Senior America", "y": 8.85, "y0": 8.76},
      {"a": "Senior Europe", "c": "Senior America", "y": 9.08, "y0": 9.0}
    ],
    "wlj_br": [
      {"a": "U18 America", "c": "U18 Oceania", "y": 6.82, "y0": 6.73}
    ]
  },
  "resolve": {"scale": {"fill": "independent"}, "legend": {"fill": "independent"}},
  "spacing": 24,
  "vconcat": [
    {
      "resolve": {"scale": {"fill": "independent"}, "legend": {"fill": "independent"}},
      "spacing": 132,
      "hconcat": [
        {
          "width": 347, "height": 246,
          "title": {"text": "Man Long Jump", "offset": 6},
          "layer": [
            {"data": {"name": "mlj"}, "mark": {"type": "rule", "color": "black", "strokeWidth": 2},
             "encoding": {
               "x": {"field": "b", "type": "nominal", "scale": {"domain": ["U18 Asia", "U18 Europe", "U18 America", "U18 Africa", "U18 Oceania", "gap1", "U20 Asia", "U20 Europe", "U20 America", "U20 Africa", "U20 Oceania", "gap2", "Senior Asia", "Senior Europe", "Senior America", "Senior Africa", "Senior Oceania"], "paddingInner": 0, "paddingOuter": 0.2},
                     "axis": {"labelExpr": "indexof(datum.value, ' ') > 0 ? split(datum.value, ' ')[1] : ''", "tickOpacity": {"condition": {"test": "indexof(datum.value, ' ') < 0", "value": 0}, "value": 1}}},
               "y": {"field": "lo", "type": "quantitative", "scale": {"domain": [7, 9], "nice": false, "zero": false}, "axis": {"values": [7, 7.5, 8, 8.5, 9], "format": ".1f", "title": "Mark(m)"}},
               "y2": {"field": "hi"}}},
            {"data": {"name": "mlj"}, "mark": {"type": "bar", "width": {"band": 0.65}, "stroke": "black", "strokeWidth": 2},
             "encoding": {"x": {"field": "b", "type": "nominal"}, "y": {"field": "q1", "type": "quantitative"}, "y2": {"field": "q3"},
               "fill": {"field": "g", "type": "nominal", "scale": {"domain": ["U18", "U20", "Senior"], "range": ["#3c3c3c", "#7f7f7f", "#c8c8c8"]}, "legend": null}}},
            {"data": {"name": "mlj_p"}, "mark": {"type": "circle", "color": "#f0362b", "opacity": 0.75, "size": 26},
             "encoding": {"x": {"field": "b", "type": "nominal"}, "y": {"field": "v", "type": "quantitative"}}},
            {"data": {"name": "mlj"}, "mark": {"type": "tick", "color": "black", "thickness": 2, "size": 13},
             "encoding": {"x": {"field": "b", "type": "nominal"}, "y": {"field": "md", "type": "quantitative"}}},
            {"data": {"name": "mlj"}, "mark": {"type": "tick", "color": "black", "thickness": 2.5, "size": 10},
             "encoding": {"x": {"field": "b", "type": "nominal"}, "y": {"field": "lo", "type": "quantitative"}}},
            {"data": {"name": "mlj"}, "mark": {"type": "tick", "color": "black", "thickness": 2.5, "size": 10},
             "encoding": {"x": {"field": "b", "type": "nominal"}, "y": {"field": "hi", "type": "quantitative"}}},
            {"data": {"name": "mlj"}, "mark": {"type": "text", "color": "#ee3b34", "fontSize": 19, "fontWeight": "bold", "y": "height", "dy": 21, "baseline": "middle"},
             "encoding": {"x": {"field": "b", "type": "nominal"}, "text": {"field": "l"}}},
            {"data": {"name": "mlj_br"}, "mark": {"type": "rule", "color": "black", "strokeWidth": 2},
             "encoding": {"x": {"field": "a", "type": "nominal"}, "x2": {"field": "c"}, "y": {"field": "y", "type": "quantitative"}}},
            {"data": {"name": "mlj_br"}, "mark": {"type": "rule", "color": "black", "strokeWidth": 2},
             "encoding": {"x": {"field": "a", "type": "nominal"}, "y": {"field": "y0", "type": "quantitative"}, "y2": {"field": "y"}}},
            {"data": {"name": "mlj_br"}, "mark": {"type": "rule", "color": "black", "strokeWidth": 2},
             "encoding": {"x": {"field": "c", "type": "nominal"}, "y": {"field": "y0", "type": "quantitative"}, "y2": {"field": "y"}}},
            {"data": {"values": [{"m": "Senior Europe", "y": 8.89, "t": "*"}]}, "mark": {"type": "text", "fontSize": 18, "fontWeight": "bold", "color": "black", "baseline": "middle"},
             "encoding": {"x": {"field": "m", "type": "nominal"}, "y": {"field": "y", "type": "quantitative"}, "text": {"field": "t"}}},
            {"data": {"values": [{"m": "Senior America", "y": 9.11, "t": "**"}]}, "mark": {"type": "text", "fontSize": 18, "fontWeight": "bold", "color": "black", "baseline": "middle", "dx": -10},
             "encoding": {"x": {"field": "m", "type": "nominal"}, "y": {"field": "y", "type": "quantitative"}, "text": {"field": "t"}}}
          ]
        },
        {
          "width": 354, "height": 246,
          "title": {"text": "Woman Long Jump", "offset": 21},
          "layer": [
            {"data": {"name": "wlj"}, "mark": {"type": "rule", "color": "black", "strokeWidth": 2},
             "encoding": {
               "x": {"field": "b", "type": "nominal", "scale": {"domain": ["U18 Asia", "U18 Europe", "U18 America", "U18 Africa", "U18 Oceania", "gap1", "U20 Asia", "U20 Europe", "U20 America", "U20 Africa", "U20 Oceania", "gap2", "Senior Asia", "Senior Europe", "Senior America", "Senior Africa", "Senior Oceania"], "paddingInner": 0, "paddingOuter": 0.2},
                     "axis": {"labelExpr": "indexof(datum.value, ' ') > 0 ? split(datum.value, ' ')[1] : ''", "tickOpacity": {"condition": {"test": "indexof(datum.value, ' ') < 0", "value": 0}, "value": 1}}},
               "y": {"field": "lo", "type": "quantitative", "scale": {"domain": [5.5, 7.5], "nice": false, "zero": false}, "axis": {"values": [5.5, 6, 6.5, 7, 7.5], "format": ".1f", "title": "Mark(m)"}},
               "y2": {"field": "hi"}}},
            {"data": {"name": "wlj"}, "mark": {"type": "bar", "width": {"band": 0.65}, "stroke": "black", "strokeWidth": 2},
             "encoding": {"x": {"field": "b", "type": "nominal"}, "y": {"field": "q1", "type": "quantitative"}, "y2": {"field": "q3"},
               "fill": {"field": "g", "type": "nominal", "scale": {"domain": ["U18", "U20", "Senior"], "range": ["#3c3c3c", "#7f7f7f", "#c8c8c8"]},
                 "legend": {"orient": "none", "legendX": 398, "legendY": 1, "title": null, "symbolType": "M-1,-0.6H1V0.6H-1Z", "symbolSize": 484, "symbolStrokeColor": "black", "symbolStrokeWidth": 1.5, "labelFontSize": 16, "labelColor": "#222222", "rowPadding": 7, "labelOffset": 12}}}},
            {"data": {"name": "wlj_p"}, "mark": {"type": "circle", "color": "#f0362b", "opacity": 0.75, "size": 26},
             "encoding": {"x": {"field": "b", "type": "nominal"}, "y": {"field": "v", "type": "quantitative"}}},
            {"data": {"name": "wlj"}, "mark": {"type": "tick", "color": "black", "thickness": 2, "size": 13},
             "encoding": {"x": {"field": "b", "type": "nominal"}, "y": {"field": "md", "type": "quantitative"}}},
            {"data": {"name": "wlj"}, "mark": {"type": "tick", "color": "black", "thickness": 2.5, "size": 10},
             "encoding": {"x": {"field": "b", "type": "nominal"}, "y": {"field": "lo", "type": "quantitative"}}},
            {"data": {"name": "wlj"}, "mark": {"type": "tick", "color": "black", "thickness": 2.5, "size": 10},
             "encoding": {"x": {"field": "b", "type": "nominal"}, "y": {"field": "hi", "type": "quantitative"}}},
            {"data": {"name": "wlj"}, "mark": {"type": "text", "color": "#ee3b34", "fontSize": 19, "fontWeight": "bold", "y": "height", "dy": 21, "baseline": "middle"},
             "encoding": {"x": {"field": "b", "type": "nominal"}, "text": {"field": "l"}}},
            {"data": {"name": "wlj_br"}, "mark": {"type": "rule", "color": "black", "strokeWidth": 2},
             "encoding": {"x": {"field": "a", "type": "nominal"}, "x2": {"field": "c"}, "y": {"field": "y", "type": "quantitative"}}},
            {"data": {"name": "wlj_br"}, "mark": {"type": "rule", "color": "black", "strokeWidth": 2},
             "encoding": {"x": {"field": "a", "type": "nominal"}, "y": {"field": "y0", "type": "quantitative"}, "y2": {"field": "y"}}},
            {"data": {"name": "wlj_br"}, "mark": {"type": "rule", "color": "black", "strokeWidth": 2},
             "encoding": {"x": {"field": "c", "type": "nominal"}, "y": {"field": "y0", "type": "quantitative"}, "y2": {"field": "y"}}},
            {"data": {"values": [{"m": "U18 Africa", "y": 6.86, "t": "*"}]}, "mark": {"type": "text", "fontSize": 18, "fontWeight": "bold", "color": "black", "baseline": "middle"},
             "encoding": {"x": {"field": "m", "type": "nominal"}, "y": {"field": "y", "type": "quantitative"}, "text": {"field": "t"}}}
          ]
        }
      ]
    },
    {
      "resolve": {"scale": {"fill": "independent"}, "legend": {"fill": "independent"}},
      "spacing": 132,
      "hconcat": [
        {
          "width": 347, "height": 246,
          "title": {"text": "Man High jump", "offset": 20},
          "layer": [
            {"data": {"name": "mhj"}, "mark": {"type": "rule", "color": "black", "strokeWidth": 2},
             "encoding": {
               "x": {"field": "b", "type": "nominal", "scale": {"domain": ["U18 Asia", "U18 Europe", "U18 America", "U18 Africa", "U18 Oceania", "gap1", "U20 Asia", "U20 Europe", "U20 America", "U20 Africa", "U20 Oceania", "gap2", "Senior Asia", "Senior Europe", "Senior America", "Senior Africa", "Senior Oceania"], "paddingInner": 0, "paddingOuter": 0.2},
                     "axis": {"labelExpr": "indexof(datum.value, ' ') > 0 ? split(datum.value, ' ')[1] : ''", "tickOpacity": {"condition": {"test": "indexof(datum.value, ' ') < 0", "value": 0}, "value": 1}}},
               "y": {"field": "lo", "type": "quantitative", "scale": {"domain": [1.9, 2.5], "nice": false, "zero": false}, "axis": {"values": [1.9, 2.0, 2.1, 2.2, 2.3, 2.4, 2.5], "format": ".1f", "title": "Mark(m)"}},
               "y2": {"field": "hi"}}},
            {"data": {"name": "mhj"}, "mark": {"type": "bar", "width": {"band": 0.65}, "stroke": "black", "strokeWidth": 2},
             "encoding": {"x": {"field": "b", "type": "nominal"}, "y": {"field": "q1", "type": "quantitative"}, "y2": {"field": "q3"},
               "fill": {"field": "g", "type": "nominal", "scale": {"domain": ["U18", "U20", "Senior"], "range": ["#3c3c3c", "#7f7f7f", "#c8c8c8"]}, "legend": null}}},
            {"data": {"name": "mhj_p"}, "mark": {"type": "circle", "color": "#f0362b", "opacity": 0.75, "size": 26},
             "encoding": {"x": {"field": "b", "type": "nominal"}, "y": {"field": "v", "type": "quantitative"}}},
            {"data": {"name": "mhj"}, "mark": {"type": "tick", "color": "black", "thickness": 2, "size": 13},
             "encoding": {"x": {"field": "b", "type": "nominal"}, "y": {"field": "md", "type": "quantitative"}}},
            {"data": {"name": "mhj"}, "mark": {"type": "tick", "color": "black", "thickness": 2.5, "size": 10},
             "encoding": {"x": {"field": "b", "type": "nominal"}, "y": {"field": "lo", "type": "quantitative"}}},
            {"data": {"name": "mhj"}, "mark": {"type": "tick", "color": "black", "thickness": 2.5, "size": 10},
             "encoding": {"x": {"field": "b", "type": "nominal"}, "y": {"field": "hi", "type": "quantitative"}}},
            {"data": {"name": "mhj"}, "mark": {"type": "text", "color": "#ee3b34", "fontSize": 19, "fontWeight": "bold", "y": "height", "dy": 21, "baseline": "middle"},
             "encoding": {"x": {"field": "b", "type": "nominal"}, "text": {"field": "l"}}}
          ]
        },
        {
          "width": 354, "height": 246,
          "title": {"text": "Woman High Jump", "offset": 20},
          "layer": [
            {"data": {"name": "whj"}, "mark": {"type": "rule", "color": "black", "strokeWidth": 2},
             "encoding": {
               "x": {"field": "b", "type": "nominal", "scale": {"domain": ["U18 Asia", "U18 Europe", "U18 America", "U18 Africa", "U18 Oceania", "gap1", "U20 Asia", "U20 Europe", "U20 America", "U20 Africa", "U20 Oceania", "gap2", "Senior Asia", "Senior Europe", "Senior America", "Senior Africa", "Senior Oceania"], "paddingInner": 0, "paddingOuter": 0.2},
                     "axis": {"labelExpr": "indexof(datum.value, ' ') > 0 ? split(datum.value, ' ')[1] : ''", "tickOpacity": {"condition": {"test": "indexof(datum.value, ' ') < 0", "value": 0}, "value": 1}}},
               "y": {"field": "lo", "type": "quantitative", "scale": {"domain": [1.7, 2.1], "nice": false, "zero": false}, "axis": {"values": [1.7, 1.8, 1.9, 2.0, 2.1], "format": ".1f", "title": "Mark(m)"}},
               "y2": {"field": "hi"}}},
            {"data": {"name": "whj"}, "mark": {"type": "bar", "width": {"band": 0.65}, "stroke": "black", "strokeWidth": 2},
             "encoding": {"x": {"field": "b", "type": "nominal"}, "y": {"field": "q1", "type": "quantitative"}, "y2": {"field": "q3"},
               "fill": {"field": "g", "type": "nominal", "scale": {"domain": ["U18", "U20", "Senior"], "range": ["#3c3c3c", "#7f7f7f", "#c8c8c8"]}, "legend": null}}},
            {"data": {"name": "whj_p"}, "mark": {"type": "circle", "color": "#f0362b", "opacity": 0.75, "size": 26},
             "encoding": {"x": {"field": "b", "type": "nominal"}, "y": {"field": "v", "type": "quantitative"}}},
            {"data": {"name": "whj"}, "mark": {"type": "tick", "color": "black", "thickness": 2, "size": 13},
             "encoding": {"x": {"field": "b", "type": "nominal"}, "y": {"field": "md", "type": "quantitative"}}},
            {"data": {"name": "whj"}, "mark": {"type": "tick", "color": "black", "thickness": 2.5, "size": 10},
             "encoding": {"x": {"field": "b", "type": "nominal"}, "y": {"field": "lo", "type": "quantitative"}}},
            {"data": {"name": "whj"}, "mark": {"type": "tick", "color": "black", "thickness": 2.5, "size": 10},
             "encoding": {"x": {"field": "b", "type": "nominal"}, "y": {"field": "hi", "type": "quantitative"}}},
            {"data": {"name": "whj"}, "mark": {"type": "text", "color": "#ee3b34", "fontSize": 19, "fontWeight": "bold", "y": "height", "dy": 21, "baseline": "middle"},
             "encoding": {"x": {"field": "b", "type": "nominal"}, "text": {"field": "l"}}}
          ]
        }
      ]
    }
  ]
}
